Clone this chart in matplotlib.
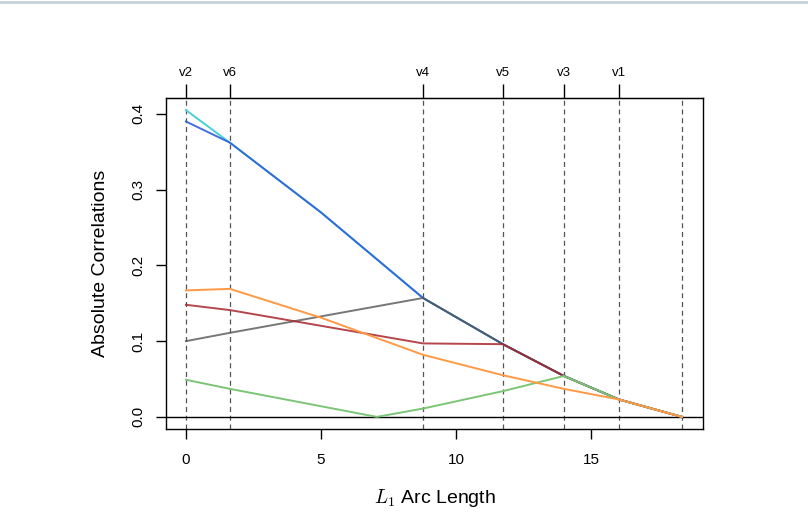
import matplotlib
matplotlib.use("Agg")
import matplotlib.pyplot as plt

plt.rcParams['font.family'] = ['Liberation Sans', 'DejaVu Sans']
plt.rcParams['mathtext.fontset'] = 'cm'

# knots of the path (L1 arc length) and their labels
knots = [0.0, 1.63, 8.78, 11.74, 14.0, 16.04, 18.37]
knot_labels = ['v2', 'v6', 'v4', 'v5', 'v3', 'v1', '']

# shared path of the active set after each variable joins
common_x = [1.63, 5.0, 8.78, 11.74, 14.0, 16.04, 18.37]
common_y = [0.362, 0.270, 0.157, 0.096, 0.054, 0.023, 0.0]

v2_x = [0.0] + common_x
v2_y = [0.405] + common_y
v6_x = [0.0] + common_x
v6_y = [0.390] + common_y
v4_x = [0.0, 1.63] + common_x[2:]
v4_y = [0.100, 0.111] + common_y[2:]
v5_x = [0.0, 1.63, 8.78] + common_x[3:]
v5_y = [0.148, 0.141, 0.097] + common_y[3:]
v3_x = [0.0, 1.63, 7.07, 8.78, 11.74] + common_x[4:]
v3_y = [0.049, 0.037, 0.0, 0.011, 0.034] + common_y[4:]
v1_x = [0.0, 1.63, 5.0, 8.78, 11.74, 14.0] + common_x[5:]
v1_y = [0.167, 0.169, 0.131, 0.082, 0.055, 0.037] + common_y[5:]

fig = plt.figure(figsize=(8.08, 5.18), dpi=100)
ax = fig.add_axes([0.2054, 0.1718, 0.6646, 0.639])

# thin border line at the very top of the image
fig.add_artist(plt.Line2D([0, 1], [0.997, 0.997], transform=fig.transFigure,
                          color='#c8d0d8', linewidth=2))

for k in knots:
    ax.axvline(k, color='#555555', linestyle=(0, (4, 3)), linewidth=0.9, zorder=1)
ax.axhline(0, color='black', linewidth=1.0, zorder=1)

# later entries are drawn on top, as in the original
ax.plot(v2_x, v2_y, color='#46d2d6', linewidth=1.4, zorder=2)
ax.plot(v6_x, v6_y, color='#3060d8', linewidth=1.4, zorder=3, alpha=0.9)
ax.plot(v4_x, v4_y, color='#555555', linewidth=1.4, zorder=4, alpha=0.8)
ax.plot(v5_x, v5_y, color='#a8262b', linewidth=1.4, zorder=5, alpha=0.85)
ax.plot(v3_x, v3_y, color='#7cc576', linewidth=1.4, zorder=6)
ax.plot(v1_x, v1_y, color='#ff9944', linewidth=1.4, zorder=7)

ax.set_xlim(-0.74, 19.15)
ax.set_ylim(-0.016, 0.421)
ax.set_xticks([0, 5, 10, 15])
ax.set_yticks([0.0, 0.1, 0.2, 0.3, 0.4])
ax.set_yticklabels(['0.0', '0.1', '0.2', '0.3', '0.4'], rotation=90, va='center')
ax.tick_params(direction='out', length=7, width=1, labelsize=11, pad=10)
ax.tick_params(axis='y', pad=8)

for s in ax.spines.values():
    s.set_linewidth(1.0)

top = ax.secondary_xaxis('top')
top.set_xticks(knots[:-1])
top.set_xticklabels(knot_labels[:-1])
top.tick_params(direction='out', length=10, width=1, labelsize=9.5, pad=4)

ax.set_ylabel('Absolute Correlations', fontsize=14, labelpad=16)
ax.set_xlabel(r'$L_1$ Arc Length', fontsize=14, labelpad=15)

fig.savefig('out.png', dpi=100)
